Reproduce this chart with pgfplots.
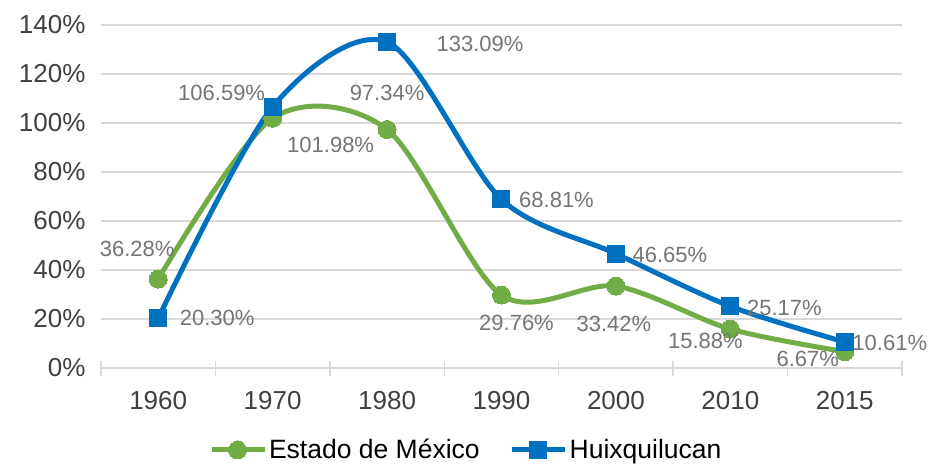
\documentclass[border=0pt]{standalone}
\usepackage{pgfplots}
\pgfplotsset{compat=1.18}
\usepackage{fontspec}
\setmainfont{Liberation Sans}
\definecolor{edomex}{HTML}{70AD47}
\definecolor{huix}{HTML}{0070C0}
\definecolor{lblgray}{HTML}{757575}
\definecolor{gridgray}{HTML}{D9D9D9}
\definecolor{tickgray}{HTML}{404040}

% x = category index, y = value, dx/dy = label offset (pt)
\pgfplotstableread{
x y dx dy
0 36.28 -21 30
1 101.98 58 -27
2 97.34 0 37
3 29.76 15 -28
4 33.42 -2 -38
5 15.88 -25 -12
6 6.67 -37 -7
}\edomex
\pgfplotstableread{
x y dx dy
0 20.30 59 0
1 106.59 -51 14
2 133.09 93 -2
3 68.81 55 -1
4 46.65 54 -1
5 25.17 54 -2
6 10.61 45 -1
}\huixq

\begin{document}
\begin{tikzpicture}
\useasboundingbox (-101pt,-98pt) rectangle (828pt,368pt);
\begin{axis}[
  scale only axis,
  width=801pt, height=343pt,
  anchor=south west, at={(0pt,0pt)},
  xmin=-0.5, xmax=6.5,
  ymin=0, ymax=140,
  xtick={0,...,6},
  xticklabels={1960,1970,1980,1990,2000,2010,2015},
  minor xtick={-0.5,0.5,...,6.5},
  major x tick style={draw=none},
  minor x tick style={draw=gridgray, line width=1.5pt},
  minor tick length=15pt,
  xtick align=center,
  ytick={0,20,...,140},
  yticklabel={\pgfmathprintnumber{\tick}\%},
  y tick style={draw=none},
  ymajorgrids,
  grid style={gridgray, line width=1.5pt},
  axis x line*=bottom,
  axis y line*=left,
  x axis line style={gridgray, line width=1.5pt},
  y axis line style={draw=none},
  /pgf/number format/assume math mode=true,
  tick label style={font=\fontsize{26}{31}\selectfont, text=tickgray},
  yticklabel style={xshift=-12pt},
  xticklabel style={yshift=-18pt},
  legend style={at={(0.456,-0.239)}, anchor=center, draw=none,
    font=\fontsize{26.5}{31}\selectfont, column sep=0pt,
    /tikz/every even column/.append style={column sep=28pt}},
  legend columns=2,
  legend cell align=left,
  legend image code/.code={
    \draw[#1, mark repeat=2, mark phase=2] plot coordinates {(0pt,0pt) (26pt,0pt) (53pt,0pt)};
  },
  nodes near coords={\pgfmathprintnumber[fixed,fixed zerofill,precision=2]{\pgfplotspointmeta}\%},
  visualization depends on={\thisrow{dx} \as \dx},
  visualization depends on={\thisrow{dy} \as \dy},
  every node near coord/.append style={anchor=center, xshift=\dx pt, yshift=\dy pt,
    font=\fontsize{22}{26}\selectfont, text=lblgray,
    /pgf/number format/assume math mode=true},
  clip=false,
]
\addplot[edomex, line width=5pt, smooth, mark=*, mark size=9pt,
  mark options={solid, fill=edomex, draw=edomex, line width=0pt}]
  table[x=x, y=y] {\edomex};
\addlegendentry{Estado de México}
\addplot[huix, line width=5pt, smooth, mark=square*, mark size=8.5pt,
  mark options={solid, fill=huix, draw=huix, line width=0pt}]
  table[x=x, y=y] {\huixq};
\addlegendentry{Huixquilucan}
\end{axis}
\end{tikzpicture}
\end{document}
